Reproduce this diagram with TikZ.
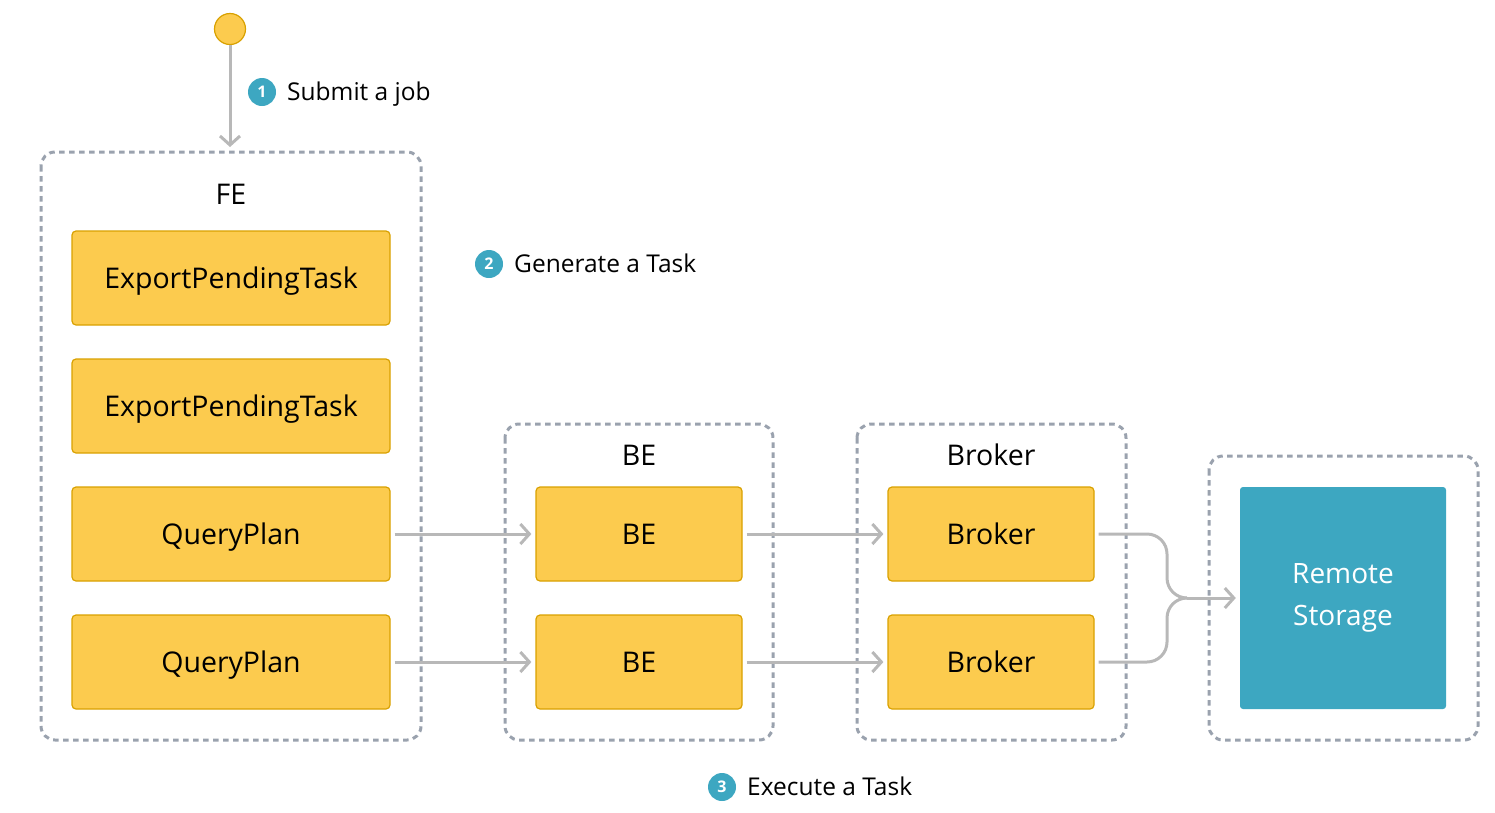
\documentclass[tikz,border=0pt]{standalone}
\usepackage{fontspec}
\setmainfont{Open Sans}
\usetikzlibrary{arrows.meta}
\definecolor{ybox}{HTML}{FCCB4E}
\definecolor{yborder}{HTML}{D9A100}
\definecolor{teal}{HTML}{3DA7C1}
\definecolor{dgray}{HTML}{9AA2AE}
\definecolor{agray}{HTML}{B8B8B8}
\begin{document}
\begin{tikzpicture}[x=1pt,y=-1pt,
  container/.style={draw=dgray,line width=3pt,dash pattern=on 5.5pt off 4.5pt,rounded corners=14pt},
  ybox/.style={draw=yborder,fill=ybox,line width=1.2pt,rounded corners=4pt,minimum width=318pt,minimum height=94pt,inner sep=0pt,text height=26pt,text depth=6pt,font=\fontsize{28.5}{32}\selectfont},
  sbox/.style={ybox,minimum width=206pt},
  title/.style={font=\fontsize{28.5}{32}\selectfont,inner sep=0pt,text height=26pt,text depth=6pt},
  num/.style={circle,fill=teal,text=white,minimum size=28pt,inner sep=0pt,font=\fontsize{16}{16}\selectfont\bfseries},
  lbl/.style={font=\fontsize{24.5}{28}\selectfont,inner sep=0pt,anchor=west,text height=22pt,text depth=4.5pt},
  conn/.style={draw=agray,line width=3pt,-{Straight Barb[length=9pt,width=20pt,line width=3pt]}}
]
\useasboundingbox (0,0) rectangle (1495,812);
% start
\node[circle,draw=yborder,fill=ybox,line width=1.2pt,minimum size=31pt,inner sep=0pt] (start) at (230,29) {};
% containers
\draw[container] (41,152) rectangle (421,740);
\draw[container] (505,424) rectangle (773,740);
\draw[container] (857,424) rectangle (1126,740);
\draw[container] (1209,456) rectangle (1478,740);
\coordinate (feTop) at (230,147);
\node[title] (feT) at (231,194) {FE};
\node[title] (beT) at (639,455) {BE};
\node[title] (brT) at (991,455) {Broker};
% FE boxes
\node[ybox] (e1) at (231,278) {ExportPendingTask};
\node[ybox] (e2) at (231,406) {ExportPendingTask};
\node[ybox] (q1) at (231,534) {QueryPlan};
\node[ybox] (q2) at (231,662) {QueryPlan};
% BE
\node[sbox] (b1) at (639,534) {BE};
\node[sbox] (b2) at (639,662) {BE};
% Broker
\node[sbox] (r1) at (991,534) {Broker};
\node[sbox] (r2) at (991,662) {Broker};
% Remote storage
\node[fill=teal,rounded corners=3pt,minimum width=206pt,minimum height=222pt,inner sep=0pt,text=white,align=center,font=\fontsize{28}{42}\selectfont] (rs) at (1343,598) {Remote\\Storage};
% labels
\node[num] (n1) at (262,92) {1};
\node[lbl] (l1) at (287,92) {Submit a job};
\node[num] (n2) at (489,264) {2};
\node[lbl] (l2) at (514,264) {Generate a Task};
\node[num] (n3) at (722,787) {3};
\node[lbl] (l3) at (747,787) {Execute a Task};
% connectors
\draw[conn] (start.south) -- (feTop);
\draw[conn] ([xshift=4pt]q1.east) -- ([xshift=-4pt]b1.west);
\draw[conn] ([xshift=4pt]q2.east) -- ([xshift=-4pt]b2.west);
\draw[conn] ([xshift=4pt]b1.east) -- ([xshift=-4pt]r1.west);
\draw[conn] ([xshift=4pt]b2.east) -- ([xshift=-4pt]r2.west);
\coordinate (m) at (1187,598);
\draw[draw=agray,line width=3pt,rounded corners=20pt] ([xshift=4pt]r1.east) -- (1167,534) -- (1167,598) -- (m);
\draw[draw=agray,line width=3pt,rounded corners=20pt] ([xshift=4pt]r2.east) -- (1167,662) -- (1167,598) -- (m);
\draw[conn] (m) -- ([xshift=-4pt]rs.west);
\end{tikzpicture}
\end{document}
